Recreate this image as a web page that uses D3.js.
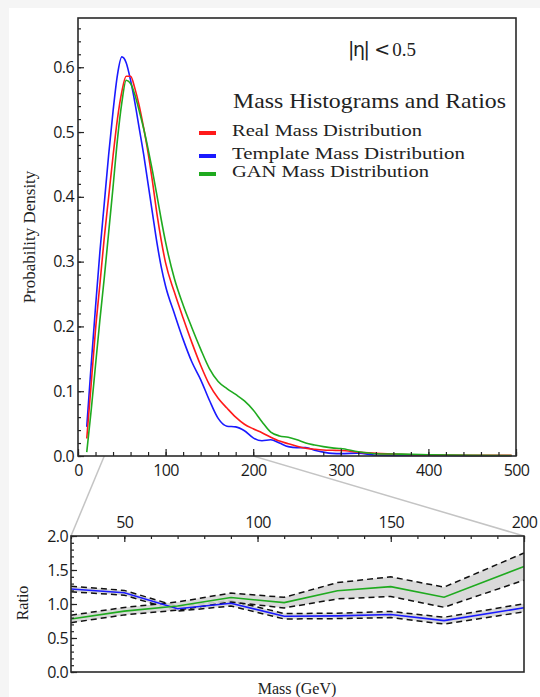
<!DOCTYPE html>
<html><head><meta charset="utf-8">
<script src="https://cdn.jsdelivr.net/npm/d3@7"></script>
<style>
body{margin:0;background:#f5f5f5;}
svg{display:block;}
.tick text{font-family:"Open Sans",sans-serif;font-size:16px;fill:#1a1a1a;letter-spacing:-0.6px;}
.tick line{stroke:#222;stroke-width:1.2;}
.serif{font-family:"Liberation Serif","DejaVu Serif",serif;fill:#222;}
</style></head>
<body>
<script>
// ---- top panel data (density vs mass) ----
const mass = [10,15,20,25,30,35,40,45,50,55,60,65,70,75,80,85,90,95,100,110,120,130,140,150,160,170,180,190,200,210,220,230,240,250,260,270,280,290,300,320,340,360,380,400,450,495];
const realDensity = [0.027,0.11,0.195,0.265,0.337,0.40,0.463,0.52,0.562,0.586,0.586,0.567,0.54,0.506,0.468,0.424,0.375,0.333,0.298,0.253,0.213,0.175,0.14,0.11,0.089,0.074,0.06,0.049,0.042,0.036,0.029,0.023,0.019,0.015,0.012,0.0105,0.0093,0.0088,0.0085,0.006,0.004,0.003,0.002,0.0015,0.001,0.001];
const templateDensity = [0.045,0.14,0.23,0.315,0.39,0.465,0.532,0.588,0.616,0.607,0.58,0.545,0.505,0.465,0.42,0.375,0.33,0.292,0.262,0.22,0.18,0.145,0.118,0.086,0.058,0.046,0.045,0.039,0.028,0.0235,0.025,0.02,0.0145,0.013,0.013,0.009,0.006,0.004,0.0037,0.0045,0.0012,0.001,0.001,0.0008,0.0005,0.0005];
const ganDensity = [0.006,0.07,0.14,0.21,0.275,0.345,0.415,0.488,0.545,0.58,0.575,0.557,0.532,0.505,0.474,0.44,0.403,0.365,0.33,0.274,0.233,0.198,0.165,0.135,0.115,0.104,0.095,0.085,0.071,0.053,0.037,0.031,0.029,0.025,0.02,0.017,0.0145,0.0125,0.0115,0.0065,0.0035,0.003,0.0026,0.002,0.001,0.0008];

// ---- bottom panel data (ratios) ----
const ratioMass = [30,50,70,90,110,130,150,170,200];
const templateRatio = [1.22,1.165,0.93,1.01,0.82,0.825,0.845,0.755,0.945];
const templateErr   = [0.04,0.035,0.035,0.04,0.04,0.04,0.045,0.05,0.06];
const ganRatio = [0.78,0.895,0.97,1.095,1.02,1.195,1.255,1.10,1.55];
const ganErr   = [0.055,0.055,0.06,0.066,0.078,0.12,0.145,0.148,0.2];

// ticks / labels
const topXTicks = [0,100,200,300,400,500];
const topYTicks = [0.0,0.1,0.2,0.3,0.4,0.5,0.6];
const botXTicks = [50,100,150,200];
const botYTicks = [0.0,0.5,1.0,1.5,2.0];
const legendTitle = "Mass Histograms and Ratios";
const legendLabels = ["Real Mass Distribution","Template Mass Distribution","GAN Mass Distribution"];
const colors = ["#ff1a1a","#1a1aff","#1faa1f"];

const W=540,H=697;
const svg = d3.select("body").append("svg").attr("width",W).attr("height",H);
svg.append("rect").attr("x",9).attr("y",8).attr("width",W-9).attr("height",H-8).attr("fill","#fff");

// ---------- TOP PANEL ----------
const tL=78,tR=516,tT=18,tB=456;
const x = d3.scaleLinear().domain([0,500]).range([tL,tR]);
const y = d3.scaleLinear().domain([0,0.676]).range([tB,tT]);

// zoom connector lines
const bL=71,bR=524,bT=536,bB=672;
const xb = d3.scaleLinear().domain([30,200]).range([bL,bR]);
const yb = d3.scaleLinear().domain([0,2]).range([bB,bT]);
svg.append("line").attr("x1",x(30)).attr("y1",tB).attr("x2",bL).attr("y2",bT).attr("stroke","#c4c4c4").attr("stroke-width",1.5);
svg.append("line").attr("x1",x(200)).attr("y1",tB).attr("x2",bR).attr("y2",bT).attr("stroke","#c4c4c4").attr("stroke-width",1.5);

const line = d3.line().x((d,i)=>x(mass[i])).y(d=>y(d)).curve(d3.curveMonotoneX);
[[templateDensity,1],[realDensity,0],[ganDensity,2]].forEach(([arr,ci])=>{
  svg.append("path").attr("d",line(arr)).attr("fill","none").attr("stroke",colors[ci]).attr("stroke-width",1.6);
});

// axes
svg.append("g").attr("transform",`translate(${tL},0)`)
  .call(d3.axisLeft(y).tickValues(topYTicks).tickFormat(d3.format(".1f")).tickSize(-6).tickPadding(4));
svg.append("g").attr("transform",`translate(${tL},0)`)
  .call(d3.axisLeft(y).tickValues(d3.range(0,0.675,0.02)).tickFormat("").tickSize(-3));
svg.append("g").attr("transform",`translate(0,${tB})`)
  .call(d3.axisBottom(x).tickValues(topXTicks).tickFormat(d3.format("d")).tickSize(-7).tickPadding(9));
svg.append("g").attr("transform",`translate(0,${tB})`)
  .call(d3.axisBottom(x).tickValues(d3.range(0,501,20)).tickFormat("").tickSize(-4));
svg.selectAll(".domain").remove();
svg.append("rect").attr("x",tL).attr("y",tT).attr("width",tR-tL).attr("height",tB-tT)
  .attr("fill","none").attr("stroke","#2a2a2a").attr("stroke-width",1.6);

svg.append("text").attr("class","serif").attr("transform","translate(35,237) rotate(-90)")
  .attr("text-anchor","middle").attr("font-size",17).text("Probability Density");

// eta label
const eta = svg.append("text").attr("x",348).attr("y",56).attr("fill","#222");
eta.append("tspan").attr("font-family","'DejaVu Sans',sans-serif").attr("font-size",19).attr("letter-spacing","-1.5").text("|η|");
eta.append("tspan").attr("font-family","'DejaVu Sans',sans-serif").attr("font-size",19).attr("dx",6).text("<");
eta.append("tspan").attr("class","serif").attr("font-size",19).attr("dx",2).text("0.5");

// legend
svg.append("text").attr("class","serif").attr("x",233).attr("y",108).attr("font-size",21)
  .attr("textLength",273).attr("lengthAdjust","spacingAndGlyphs").text(legendTitle);
const legY=[134,157,175], legW=[190,233,197];
legendLabels.forEach((t,i)=>{
  svg.append("line").attr("x1",199).attr("x2",216).attr("y1",legY[i]-1).attr("y2",legY[i]-1)
    .attr("stroke",colors[i]).attr("stroke-width",4);
  svg.append("text").attr("class","serif").attr("x",232).attr("y",legY[i]+2).attr("font-size",17)
    .attr("textLength",legW[i]).attr("lengthAdjust","spacingAndGlyphs").text(t);
});

// ---------- BOTTOM PANEL ----------
function band(vals,errs){
  const area = d3.area().x((d,i)=>xb(ratioMass[i])).y0((d,i)=>yb(vals[i]-errs[i])).y1((d,i)=>yb(vals[i]+errs[i]));
  svg.append("path").attr("d",area(vals)).attr("fill","#d6d6d6").attr("opacity",0.9);
  const up = d3.line().x((d,i)=>xb(ratioMass[i])).y((d,i)=>yb(vals[i]+errs[i]));
  const lo = d3.line().x((d,i)=>xb(ratioMass[i])).y((d,i)=>yb(vals[i]-errs[i]));
  [up,lo].forEach(l=>svg.append("path").attr("d",l(vals)).attr("fill","none").attr("stroke","#111")
    .attr("stroke-width",1.5).attr("stroke-dasharray","6,4"));
}
band(templateRatio,templateErr);
band(ganRatio,ganErr);
const rl = d3.line().x((d,i)=>xb(ratioMass[i])).y(d=>yb(d));
svg.append("path").attr("d",rl(templateRatio)).attr("fill","none").attr("stroke",colors[1]).attr("stroke-width",1.6);
svg.append("path").attr("d",rl(ganRatio)).attr("fill","none").attr("stroke",colors[2]).attr("stroke-width",1.6);

svg.append("g").attr("transform",`translate(${bL},0)`)
  .call(d3.axisLeft(yb).tickValues(botYTicks).tickFormat(d3.format(".1f")).tickSize(-6).tickPadding(3));
svg.append("g").attr("transform",`translate(${bL},0)`)
  .call(d3.axisLeft(yb).tickValues(d3.range(0,2.01,0.1)).tickFormat("").tickSize(-3));
svg.append("g").attr("transform",`translate(0,${bT})`)
  .call(d3.axisTop(xb).tickValues(botXTicks).tickFormat(d3.format("d")).tickSize(-6).tickPadding(8));
svg.append("g").attr("transform",`translate(0,${bT})`)
  .call(d3.axisTop(xb).tickValues(d3.range(30,201,10)).tickFormat("").tickSize(-3));
svg.selectAll(".domain").remove();
svg.append("rect").attr("x",bL).attr("y",bT).attr("width",bR-bL).attr("height",bB-bT)
  .attr("fill","none").attr("stroke","#2a2a2a").attr("stroke-width",1.6);

svg.append("text").attr("class","serif").attr("transform","translate(28,603) rotate(-90)")
  .attr("text-anchor","middle").attr("font-size",16).text("Ratio");
svg.append("text").attr("class","serif").attr("x",297).attr("y",694)
  .attr("text-anchor","middle").attr("font-size",16).text("Mass (GeV)");
</script>
</body></html>
